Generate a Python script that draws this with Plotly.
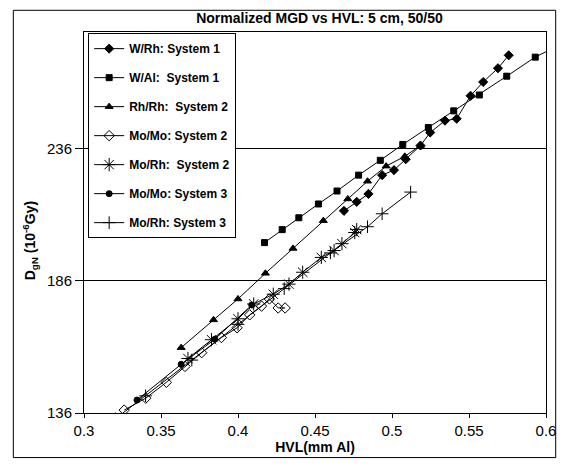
import plotly.graph_objects as go

# ---- data ----
wrh_x = [0.4688, 0.4771, 0.4847, 0.4936, 0.5013, 0.5089, 0.5185, 0.5248, 0.5344, 0.5420, 0.5510, 0.5592, 0.5688, 0.5758]
wrh_y = [212.4, 215.8, 218.8, 225.9, 227.8, 231.9, 237.1, 242.0, 246.5, 247.2, 255.9, 261.1, 266.3, 271.2]

wal_x = [0.4172, 0.4287, 0.4395, 0.4522, 0.4643, 0.4783, 0.4924, 0.5070, 0.5236, 0.5401, 0.5567, 0.5745, 0.5930, 0.6100]
wal_y = [200.4, 205.3, 209.8, 215.0, 219.9, 225.9, 231.5, 237.5, 243.9, 250.2, 256.2, 263.3, 270.5, 275.5]

rhrh_x = [0.3631, 0.3841, 0.4000, 0.4178, 0.4357, 0.4554, 0.4713, 0.4841, 0.4962, 0.5083, 0.5185]
rhrh_y = [160.7, 171.2, 179.1, 188.8, 198.2, 208.7, 216.9, 223.6, 229.3, 233.0, 237.1]

momo2_x = [0.3261, 0.3401, 0.3535, 0.3656, 0.3764, 0.3892, 0.3994, 0.4076, 0.4153, 0.4204, 0.4261, 0.4306]
momo2_y = [137.1, 141.6, 147.6, 153.6, 158.8, 164.5, 168.2, 173.1, 176.4, 179.1, 175.7, 175.7]

morh2_x = [0.3675, 0.3828, 0.4000, 0.4102, 0.4229, 0.4331, 0.4420, 0.4541, 0.4624, 0.4675, 0.4758, 0.4771]
morh2_y = [156.6, 163.7, 171.6, 177.2, 180.9, 184.7, 189.2, 194.8, 197.4, 200.0, 204.2, 205.3]

momo3_x = [0.3344, 0.3631, 0.3850, 0.4089]
momo3_y = [140.9, 154.4, 163.9, 176.8]

morh3_x = [0.3204, 0.3400, 0.3700, 0.4000, 0.4300, 0.4600, 0.4841, 0.4936, 0.5121]
morh3_y = [133.8, 142.5, 156.0, 169.5, 183.0, 196.5, 206.4, 211.3, 219.5]

x_ticks = [0.3, 0.35, 0.4, 0.45, 0.5, 0.55, 0.6]
x_tick_text = ["0.3", "0.35", "0.4", "0.45", "0.5", "0.55", "0.6"]
y_ticks = [136, 186, 236]
y_tick_text = ["136", "186", "236"]

series = [
    ("W/Rh: System 1", wrh_x, wrh_y, "diamond", 7),
    ("W/Al:  System 1", wal_x, wal_y, "square", 6),
    ("Rh/Rh:  System 2", rhrh_x, rhrh_y, "triangle-up", 7),
    ("Mo/Mo: System 2", momo2_x, momo2_y, "diamond-open", 8),
    ("Mo/Rh:  System 2", morh2_x, morh2_y, "asterisk-open", 11),
    ("Mo/Mo: System 3", momo3_x, momo3_y, "circle", 6),
    ("Mo/Rh: System 3", morh3_x, morh3_y, "cross-thin-open", 9),
]

fig = go.Figure()
for i, (name, xs, ys, sym, sz) in enumerate(series):
    fig.add_trace(go.Scatter(
        x=xs, y=ys, name="<b>" + name + "</b>", mode="lines+markers", legendgroup=f"g{i}",
        line=dict(color="black", width=1),
        marker=dict(symbol=sym, size=sz, color="black",
                    line=dict(color="black", width=1)),
    ))

fig.update_layout(
    width=568, height=467,
    margin=dict(l=84, r=13, t=32, b=54),
    paper_bgcolor="white", plot_bgcolor="white",
    font=dict(family="Liberation Sans, Arial, sans-serif", color="black", size=15),
    title=dict(text="<b>Normalized MGD vs HVL: 5 cm, 50/50</b>", x=0.5625, xanchor="center",
               y=0.962, yanchor="middle", font=dict(size=14)),
    showlegend=True,
    legend=dict(x=0.009, y=0.997, xanchor="left", yanchor="top",
                bgcolor="white", bordercolor="black", borderwidth=1,
                font=dict(size=12, family="Liberation Sans, Arial, sans-serif"),
                tracegroupgap=10, itemwidth=30),
    xaxis=dict(range=[0.3, 0.6], tickvals=x_ticks, ticktext=x_tick_text,
               showgrid=False, zeroline=False, showline=True, linecolor="black", linewidth=1,
               ticks="outside", ticklen=4, tickcolor="black", mirror=True,
               title=dict(text="<b>HVL(mm Al)</b>", font=dict(size=14), standoff=2)),
    yaxis=dict(range=[136, 280], tickvals=y_ticks, ticktext=y_tick_text,
               showgrid=True, gridcolor="black", gridwidth=1, zeroline=False,
               showline=True, linecolor="black", linewidth=1, mirror=True,
               ticks="outside", ticklen=8, tickcolor="black"),
)

# y-axis title as a rotated annotation (placed where the reference shows it)
fig.add_annotation(text="<b>D<sub>gN</sub> (10<sup>-6</sup>Gy)</b>", xref="paper", yref="paper",
                   x=-0.118, y=0.452, xanchor="center", yanchor="middle", textangle=-90,
                   showarrow=False, font=dict(size=14))

# outer chart frame
fig.add_shape(type="rect", xref="paper", yref="paper", x0=-0.153, x1=1.021, y0=-0.117, y1=1.057,
              line=dict(color="black", width=1), layer="below")

fig.write_html("out.html", config={"displayModeBar": False},
               post_script="document.body.style.margin='0px';document.body.style.overflow='hidden';")
